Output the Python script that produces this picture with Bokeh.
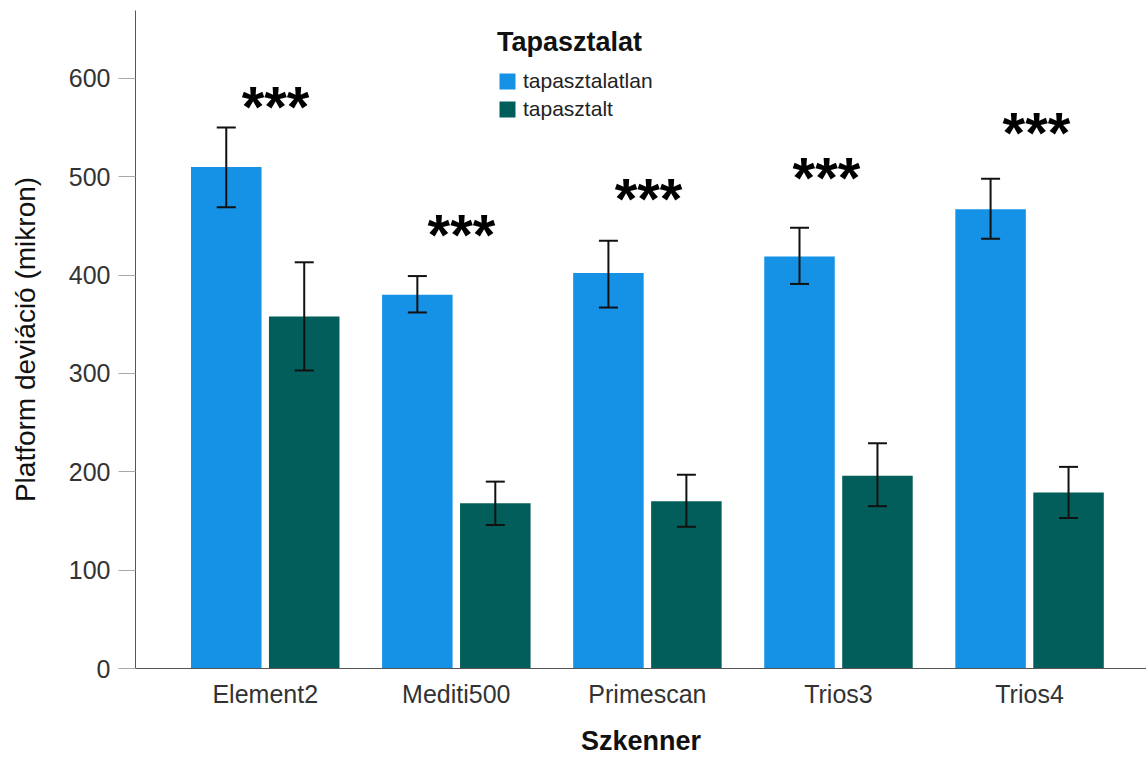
import numpy as np
from bokeh.plotting import figure
from bokeh.models import (ColumnDataSource, Whisker, TeeHead, Legend, LegendItem,
                          FixedTicker, Range1d)
from bokeh.core.properties import value
from bokeh.embed import file_html
from bokeh.resources import INLINE

# Platform deviation (micron) per scanner, mean with 95% CI, by experience group
scanners = ["Element2", "Mediti500", "Primescan", "Trios3", "Trios4"]
groups = ["tapasztalatlan", "tapasztalt"]

mean_inexp = [510, 380, 402, 419, 467]
lo_inexp = [469, 362, 367, 391, 437]
hi_inexp = [550, 399, 435, 448, 498]

mean_exp = [358, 168, 170, 196, 179]
lo_exp = [303, 146, 144, 165, 153]
hi_exp = [413, 190, 197, 229, 205]

sig_marks = ["***", "***", "***", "***", "***"]
sig_level = [579, 448, 485, 506, 552]
sig_nudge = [0.054, 0.027, 0.006, -0.063, 0.036]

BLUE = "#1591e6"
TEAL = "#025e5a"
FONT = "Liberation Sans"

idx = np.arange(len(scanners))
offset = 0.204
bar_w = 0.369

src_a = ColumnDataSource(dict(x=idx - offset, top=mean_inexp, lo=lo_inexp, hi=hi_inexp))
src_b = ColumnDataSource(dict(x=idx + offset, top=mean_exp, lo=lo_exp, hi=hi_exp))

p = figure(width=1146, height=758,
           x_range=Range1d(-0.679, 4.612), y_range=Range1d(0, 669),
           output_backend="svg", toolbar_location=None,
           min_border_left=135, min_border_right=0,
           min_border_top=10, min_border_bottom=90)
p.outline_line_color = None
p.grid.visible = False
p.background_fill_color = "white"
p.border_fill_color = "white"

r_a = p.vbar(x="x", top="top", width=bar_w, source=src_a, fill_color=BLUE, line_color=None)
r_b = p.vbar(x="x", top="top", width=bar_w, source=src_b, fill_color=TEAL, line_color=None)

# 95% confidence interval whiskers drawn over the bars
for src in (src_a, src_b):
    w = Whisker(base="x", lower="lo", upper="hi", source=src,
                line_color="#111111", line_width=2,
                upper_head=TeeHead(size=19, line_color="#111111", line_width=2),
                lower_head=TeeHead(size=19, line_color="#111111", line_width=2))
    w.level = "annotation"
    p.add_layout(w)

# significance stars above each scanner
p.text(x=[i + n for i, n in zip(idx, sig_nudge)], y=sig_level, text=sig_marks,
       text_font=value(FONT), text_font_size="58px", text_font_style="bold",
       text_color="#000000", text_align="center", text_baseline="alphabetic",
       y_offset=7)

# axes
p.xaxis.ticker = FixedTicker(ticks=list(idx))
p.xaxis.major_label_overrides = {int(i): s for i, s in zip(idx, scanners)}
p.xaxis.major_tick_line_color = None
p.xaxis.major_tick_out = 0
p.xaxis.major_tick_in = 0
p.xaxis.minor_tick_line_color = None
p.xaxis.major_label_standoff = 11
p.xaxis.axis_line_color = "#555555"
p.xaxis.axis_label = "Szkenner"
p.xaxis.axis_label_standoff = 15

p.yaxis.ticker = FixedTicker(ticks=[0, 100, 200, 300, 400, 500, 600])
p.yaxis.minor_tick_line_color = None
p.yaxis.major_tick_out = 17
p.yaxis.major_tick_in = 0
p.yaxis.major_tick_line_color = "#aaaaaa"
p.yaxis.major_label_standoff = 8
p.yaxis.axis_line_color = "#555555"
p.yaxis.axis_label = "Platform deviáció (mikron)"
p.yaxis.axis_label_standoff = 25

for ax in (p.xaxis, p.yaxis):
    ax.major_label_text_font = FONT
    ax.major_label_text_font_size = "25px"
    ax.major_label_text_color = "#333333"
    ax.axis_label_text_font = FONT
    ax.axis_label_text_color = "#111111"

p.xaxis.axis_label_text_font_size = "27px"
p.xaxis.axis_label_text_font_style = "bold"
p.yaxis.axis_label_text_font_size = "28px"
p.yaxis.axis_label_text_font_style = "normal"

legend = Legend(items=[LegendItem(label=groups[0], renderers=[r_a]),
                       LegendItem(label=groups[1], renderers=[r_b])],
                location=(362, 547), title="Tapasztalat",
                title_text_font=FONT, title_text_font_size="27px",
                title_text_font_style="bold", title_text_color="#111111",
                title_standoff=11,
                label_text_font=FONT, label_text_font_size="21px",
                label_text_color="#222222", label_standoff=6,
                glyph_width=20, glyph_height=20, spacing=4,
                padding=0, margin=0, border_line_color=None,
                background_fill_alpha=0)
p.add_layout(legend)

open("out.html", "w").write(file_html(p, INLINE))
